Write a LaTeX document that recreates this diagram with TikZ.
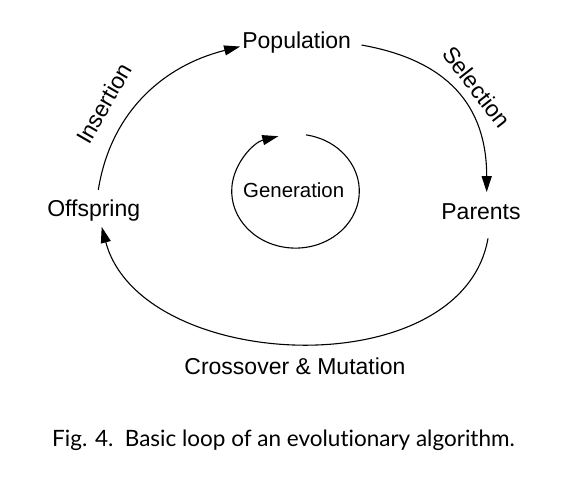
\documentclass[tikz,border=0pt]{standalone}
\usepackage{fontspec}
\setmainfont{Liberation Sans}
\newfontfamily\capfont[Ligatures=CommonOff]{Lato}
\usetikzlibrary{arrows.meta}

\tikzset{
  stage/.style={inner sep=2pt, anchor=base, font=\fontsize{23}{27}\selectfont},
  lbl/.style={inner sep=0pt, font=\fontsize{23}{27}\selectfont},
  flow/.style={line width=1.1pt, -{Triangle[length=16pt,width=10pt]}},
}

\begin{document}
\begin{tikzpicture}[x=1pt,y=1pt]
      \useasboundingbox (0,0) rectangle (586,486);
      \node[stage] (pop) at (296.7,437) {Population};
      \node[stage] (par) at (481,266) {Parents};
      \node[stage] (off) at (93.7,269) {Offspring};
      \node[inner sep=2pt,anchor=base,font=\fontsize{20.4}{24}\selectfont] (gen) at (293.7,288.7) {Generation};
      % the big loop
      \draw[flow] ([xshift=4.6pt,yshift=8.2pt]off.north) to[out=81,in=194] ([yshift=-3.5pt]pop.west);
      \draw[flow] ([xshift=8.3pt,yshift=-2pt]pop.east) to[out=-10,in=90,looseness=1.15] ([xshift=5.7pt,yshift=9.8pt]par.north);
      \draw[flow] ([xshift=7pt,yshift=-16pt]par.south) to[out=-100,in=-75] ([xshift=8pt,yshift=-2.9pt]off.south);
      % the inner loop
      \draw[flow] ([xshift=1.8pt,yshift=-1.1pt]gen.center) ++(80.5:63.8 and 57) arc[start angle=80.5, end angle=-254.4, x radius=63.8, y radius=57];
      \node[lbl,rotate=60] (ins) at (104,382.5) {Insertion};
      \node[lbl,rotate=-52] (sel) at (477,399) {Selection};
      \node[lbl,anchor=base] (cm) at (295,111) {Crossover \& Mutation};
      \node[inner sep=0pt,anchor=base,font=\capfont\fontsize{22.5}{26}\selectfont] (cap) at (283.5,39) {Fig. 4.\ \ Basic loop of an evolutionary algorithm.};
    \end{tikzpicture}
\end{document}
